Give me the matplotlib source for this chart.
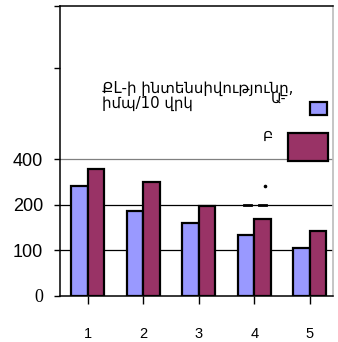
import matplotlib.pyplot as plt
from matplotlib.patches import Rectangle
from matplotlib.lines import Line2D

# ---- data
groups = [1, 2, 3, 4, 5]
serie_a = [242, 187, 160, 134, 105]
serie_b = [279, 251, 198, 169, 143]
ytick_vals = [0, 100, 200, 300, 500, 637]
ytick_txt = ['0', '100', '200', '400', '', '']
grid_vals = [100, 200, 300]
legend_title = 'ՔL-ի ինտենսիվությունը,\nիմպ/10 վրկ'
legend_a = 'Ա-'
legend_b = 'Բ'

W, H = 338, 342
fig = plt.figure(figsize=(W / 100, H / 100), dpi=100)
ax = fig.add_axes([60 / W, 1 - 296 / H, 273 / W, 290 / H])

bw = 0.3
xa = [g - bw / 2 for g in groups]
xb = [g + bw / 2 for g in groups]
ax.bar(xa, serie_a, width=bw, color='#9999ff', edgecolor='black', linewidth=1.6, zorder=3)
ax.bar(xb, serie_b, width=bw, color='#993366', edgecolor='black', linewidth=1.6, zorder=3)

for v in grid_vals:
    ax.axhline(v, color='black' if v < 300 else '#808080', lw=0.9, zorder=1)

ax.set_xlim(0.5, 5.42)
ax.set_ylim(0, 637)
ax.set_xticks(groups)
ax.set_xticklabels([str(g) for g in groups], fontsize=10.5, family='Liberation Sans')
ax.tick_params(axis='x', direction='out', length=6, width=1, pad=16)
ax.set_yticks(ytick_vals)
ax.set_yticklabels(ytick_txt, fontsize=13, family='Liberation Sans')
ax.tick_params(axis='y', direction='out', length=4, width=1, pad=8)
ax.get_yticklabels()[0].set_family('Liberation Serif')

for s in ['left', 'bottom', 'top']:
    ax.spines[s].set_linewidth(1.1)
ax.spines['right'].set_color('#bbbbbb')
ax.spines['right'].set_linewidth(1.2)

# legend drawn by hand in pixel positions
def fx(px):
    return px / W

def fy(py):
    return 1 - py / H

fig.text(fx(102), fy(81), legend_title, fontsize=10.8, va='top', ha='left',
         linespacing=0.95, family='DejaVu Sans')
fig.text(fx(271), fy(99), legend_a, fontsize=10, va='center', ha='left', family='DejaVu Sans')
fig.text(fx(263), fy(137), legend_b, fontsize=10, va='center', ha='left', family='DejaVu Sans')
fig.patches.append(Rectangle((fx(310), fy(115)), 17 / W, 13 / H, transform=fig.transFigure,
                             facecolor='#9999ff', edgecolor='black', lw=1.6, figure=fig))
fig.patches.append(Rectangle((fx(288), fy(161)), 40 / W, 28 / H, transform=fig.transFigure,
                             facecolor='#993366', edgecolor='black', lw=1.6, figure=fig))

# stray dashes and dot above group 4
for x0, x1 in [(244, 251), (259, 266)]:
    fig.lines.append(Line2D([fx(x0), fx(x1)], [fy(205), fy(205)], transform=fig.transFigure,
                            color='black', lw=2, figure=fig))
fig.lines.append(Line2D([fx(265)], [fy(186)], transform=fig.transFigure, marker='o',
                        markersize=1.6, color='black', figure=fig))

fig.savefig('out.png', dpi=100)
